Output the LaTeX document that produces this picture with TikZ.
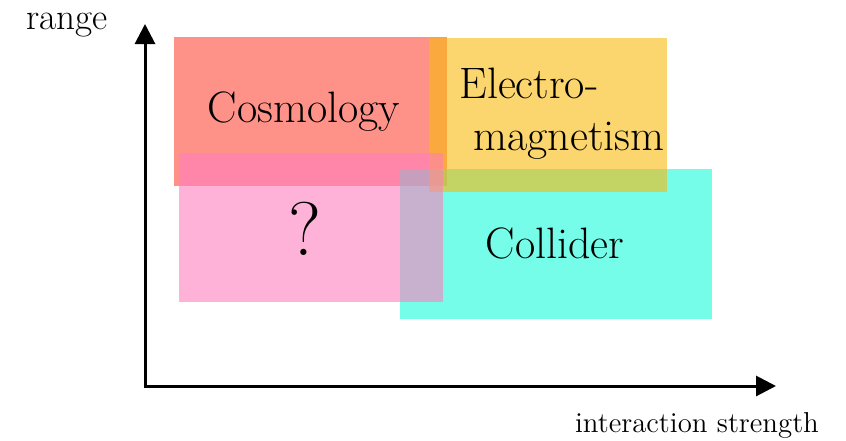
\documentclass[tikz,border=0pt]{standalone}
\usepackage{tikz}
\usetikzlibrary{calc,arrows.meta}

\definecolor{cosmocol}{RGB}{255,73,57}
\definecolor{emcol}{RGB}{248,185,13}
\definecolor{collcol}{RGB}{25,252,218}
\definecolor{unkcol}{RGB}{255,127,190}

\tikzset{
  area/.style={fill opacity=0.6},
  axis/.style={line width=1.5pt,-{Triangle[length=10pt,width=10pt]}},
  lbl/.style={inner sep=0pt,anchor=base,font=\fontsize{22}{26}\selectfont}
}

\begin{document}
\begin{tikzpicture}[x=0.5pt,y=-0.5pt]
  \useasboundingbox (0,0) rectangle (846,440);
  % regions
  \fill[area,cosmocol] (174,37) rectangle (447,186);
  \fill[area,collcol] (400,169) rectangle (712,319);
  \fill[area,emcol] (429,38) rectangle (667,192);
  \fill[area,unkcol] (179,153) rectangle (443,302);
  % labels
  \node[lbl] (cosmo) at (304,122) {Cosmology};
  \node[lbl,anchor=base west] (em1) at (459,98) {Electro-};
  \node[lbl,anchor=base west] (em2) at ($(em1.base west)+(14,52)$) {magnetism};
  \node[lbl] (coll) at (555,258) {Collider};
  \node[lbl,font=\fontsize{38}{40}\selectfont] (unk) at (305,255) {?};
  % axes
  \coordinate (O) at (145,386);
  \coordinate (Ytip) at (145,24);
  \coordinate (Xtip) at (776,386);
  \draw[axis] ($(O)+(0,1.5)$) -- (Ytip);
  \draw[axis] ($(O)+(-1.5,0)$) -- (Xtip);
  \node[anchor=base,inner sep=0pt,font=\fontsize{18.6}{22}\selectfont] (ylab) at (67,29) {range};
  \node[anchor=base,inner sep=0pt,font=\Large] (xlab) at (697,432) {interaction strength};
\end{tikzpicture}
\end{document}
